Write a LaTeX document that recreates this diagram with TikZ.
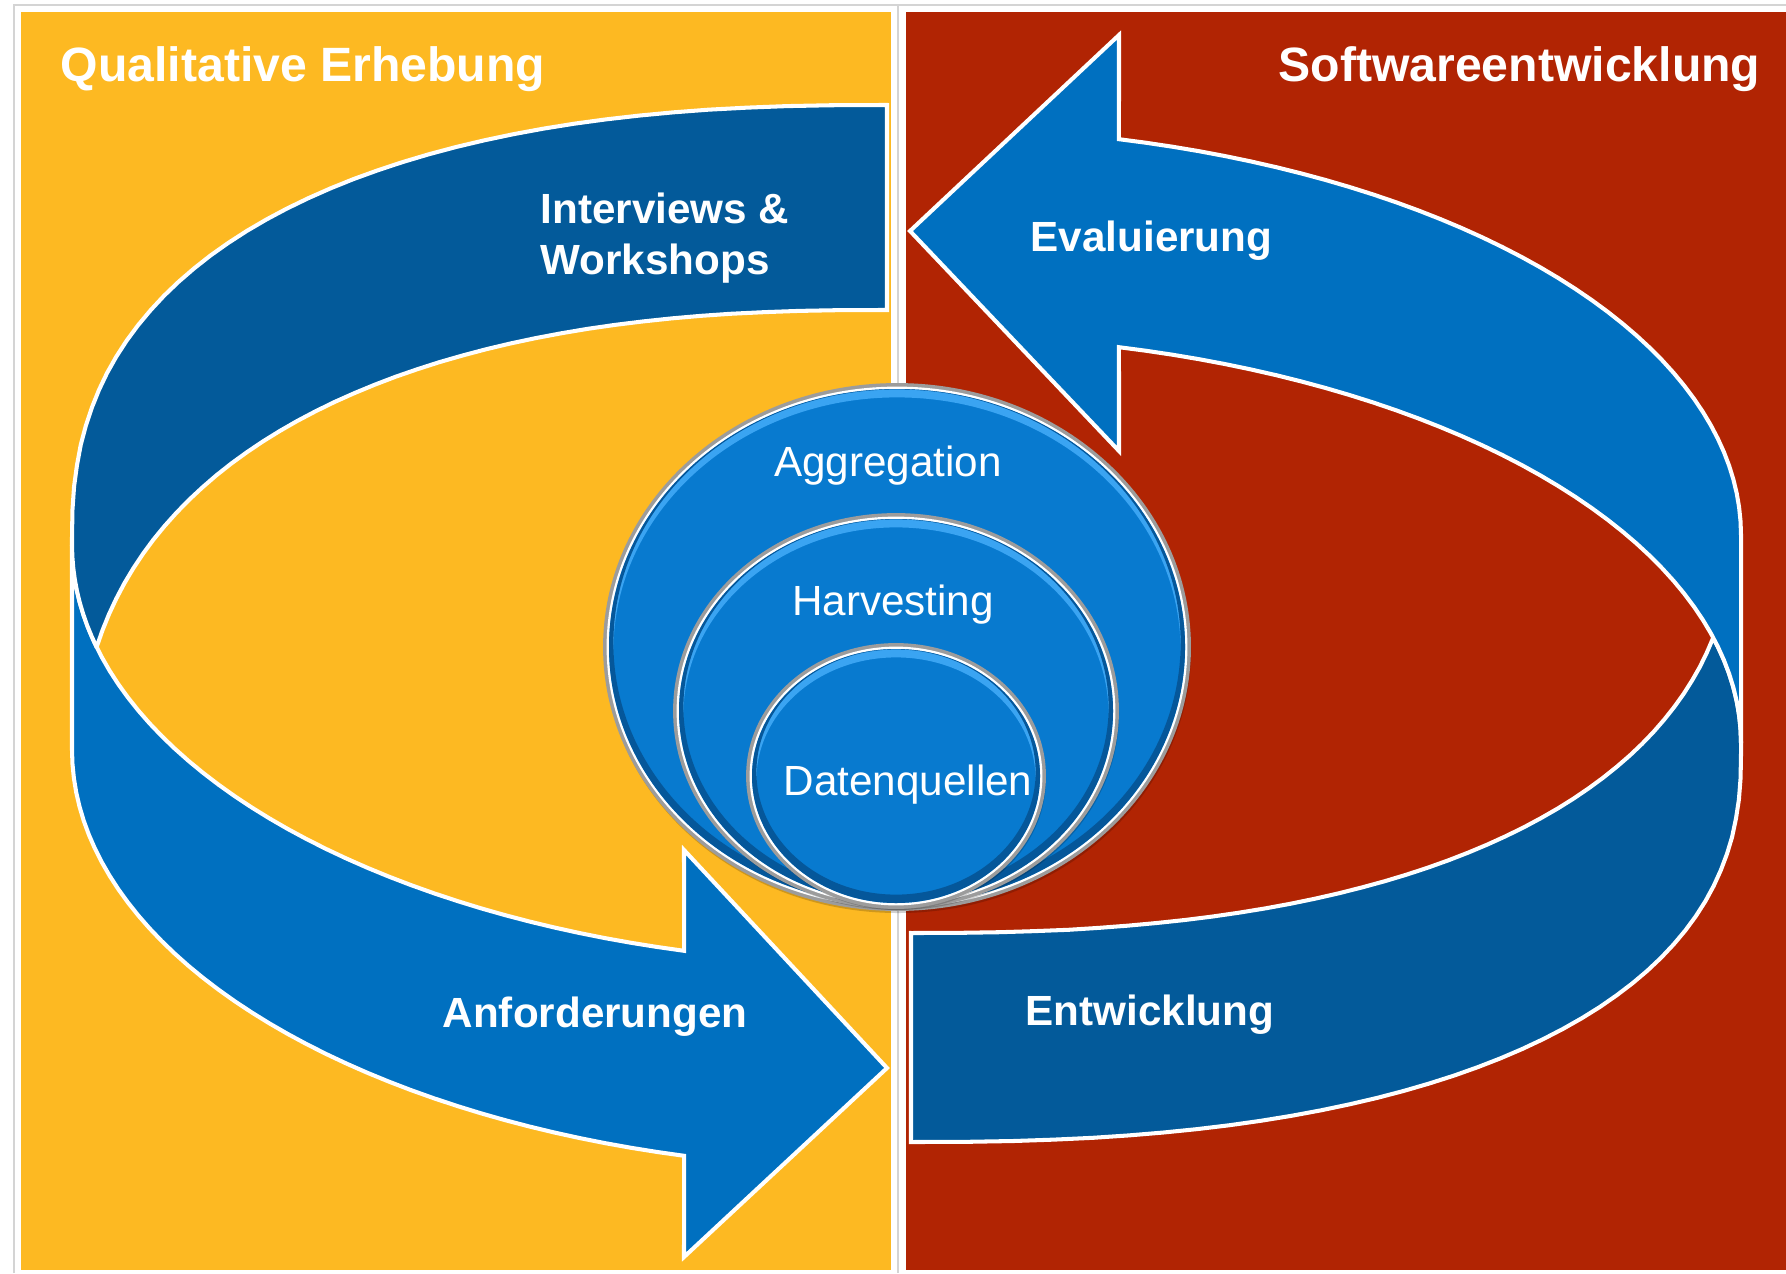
\documentclass[tikz,border=0pt]{standalone}
\usepackage{fontspec}
\setmainfont{Liberation Sans}

\definecolor{panelyellow}{HTML}{FDB922}
\definecolor{panelred}{HTML}{B12403}
\definecolor{arrowblue}{HTML}{0070C0}
\definecolor{backblue}{HTML}{035A9A}
\definecolor{discblue}{HTML}{087ACF}
\definecolor{discglow}{HTML}{3AA4F2}
\definecolor{discdark}{HTML}{05579A}
\definecolor{discrim}{HTML}{9C9C9C}
\definecolor{framegray}{HTML}{D4D4D4}

\tikzset{
  band/.style={draw=white, line width=1.15pt, line join=miter},
  curve/.style={variable=\t, samples=40},
  disc/.style={fill=discblue, draw=discrim, line width=1.1pt},
  discring/.style={draw=white, line width=0.8pt},
  title/.style={text=white, font=\bfseries\fontsize{13.7}{16}\selectfont, inner sep=0pt},
  steplabel/.style={text=white, font=\bfseries\fontsize{12}{14.5}\selectfont, align=left, inner sep=0pt},
  disclabel/.style={text=white, font=\fontsize{12}{14}\selectfont, inner sep=0pt},
}

\begin{document}
\begin{tikzpicture}[x=0.01cm,y=-0.01cm]
\useasboundingbox (0,0) rectangle (1786,1273);
\fill[white] (0,0) rectangle (1786,1273);

% panels
\draw[framegray, line width=0.6pt] (14,1273) -- (14,5) -- (1786,5);
\draw[framegray, line width=0.8pt] (898,5) -- (898,1273);
\fill[panelyellow] (21,12) rectangle (891,1270);
\fill[panelred] (906,12) rectangle (1786,1270);

\node[title, anchor=base west] (qual) at (60,82) {Qualitative Erhebung};
\node[title, anchor=base east] (soft) at (1761,82) {Softwareentwicklung};

% left arrow, front
\filldraw[band, fill=arrowblue] (72,750)
  -- plot[curve, domain=0:75.58] ({887-815*cos(\t)}, {750+419*sin(\t)})
  -- (684,1257) -- (887,1068) -- (684,850)
  -- plot[curve, domain=75.58:0] ({887-815*cos(\t)}, {545+419*sin(\t)})
  -- cycle;
% left arrow, back
\filldraw[band, fill=backblue] (887,105)
  -- plot[curve, domain=89.99:0.01] ({887-815*pow(cos(\t),0.8333)}, {540-435*pow(sin(\t),0.8333)})
  -- (72,545)
  -- plot[curve, domain=0:14.15, samples=10] ({887-815*cos(\t)}, {545+419*sin(\t)})
  -- plot[curve, domain=13.5:89.99] ({887-809*pow(cos(\t),0.8333)}, {790-480*pow(sin(\t),0.8333)})
  -- (887,310) -- cycle;

% right arrow, back
\filldraw[band, fill=backblue] (911,933)
  -- plot[curve, domain=89.99:14.54] ({911+824*pow(cos(\t),0.8333)}, {501.8+431.2*pow(sin(\t),0.8333)})
  -- plot[curve, domain=15:0, samples=10] ({925+816*cos(\t)}, {743-407.5*sin(\t)})
  -- (1741,751)
  -- plot[curve, domain=0.01:89.99] ({911+830*pow(cos(\t),0.8333)}, {751.4+390.6*pow(sin(\t),0.8333)})
  -- (911,1142) -- cycle;
% right arrow, front
\filldraw[band, fill=arrowblue] (910,231) -- (1119,35)
  -- plot[curve, domain=76.25:0] ({925+816*cos(\t)}, {535-407.5*sin(\t)})
  -- plot[curve, domain=0:76.25] ({925+816*cos(\t)}, {743-407.5*sin(\t)})
  -- (1119,451) -- cycle;

\node[steplabel, anchor=base west] (interviews) at (540,274) {Interviews \&\\Workshops};
\node[steplabel, anchor=base west] (evaluierung) at (1030,251) {Evaluierung};
\node[steplabel, anchor=base west] (anforderungen) at (442,1027) {Anforderungen};
\node[steplabel, anchor=base west] (entwicklung) at (1025,1025) {Entwicklung};

% nested discs
\fill[black, opacity=0.18] (898,651) ellipse [x radius=293, y radius=262];
\filldraw[disc] (897,647) ellipse [x radius=292, y radius=262];
\draw[discring] (897,647) ellipse [x radius=289, y radius=259];
\begin{scope}
  \clip (897,647) ellipse [x radius=288, y radius=258];
  \draw[discglow, line width=2.5pt] (897,651) ellipse [x radius=288, y radius=258];
  \draw[discdark, line width=2.5pt] (897,643) ellipse [x radius=288, y radius=258];
\end{scope}

\fill[black, opacity=0.18] (897,714) ellipse [x radius=222, y radius=196];
\filldraw[disc] (896,711) ellipse [x radius=221, y radius=196];
\draw[discring] (896,711) ellipse [x radius=218, y radius=193];
\begin{scope}
  \clip (896,711) ellipse [x radius=217, y radius=192];
  \draw[discglow, line width=2.5pt] (896,715) ellipse [x radius=217, y radius=192];
  \draw[discdark, line width=2.5pt] (896,707) ellipse [x radius=217, y radius=192];
\end{scope}

\fill[black, opacity=0.18] (897,779) ellipse [x radius=149, y radius=131];
\filldraw[disc] (896,776) ellipse [x radius=148, y radius=131];
\draw[discring] (896,776) ellipse [x radius=145, y radius=128];
\begin{scope}
  \clip (896,776) ellipse [x radius=144, y radius=127];
  \draw[discglow, line width=2.5pt] (896,780) ellipse [x radius=144, y radius=127];
  \draw[discdark, line width=2.5pt] (896,772) ellipse [x radius=144, y radius=127];
\end{scope}

\node[disclabel, anchor=base] (aggregation) at (888,476) {Aggregation};
\node[disclabel, anchor=base] (harvesting) at (893,615) {Harvesting};
\node[disclabel, anchor=base] (datenquellen) at (908,795) {Datenquellen};
\end{tikzpicture}
\end{document}
